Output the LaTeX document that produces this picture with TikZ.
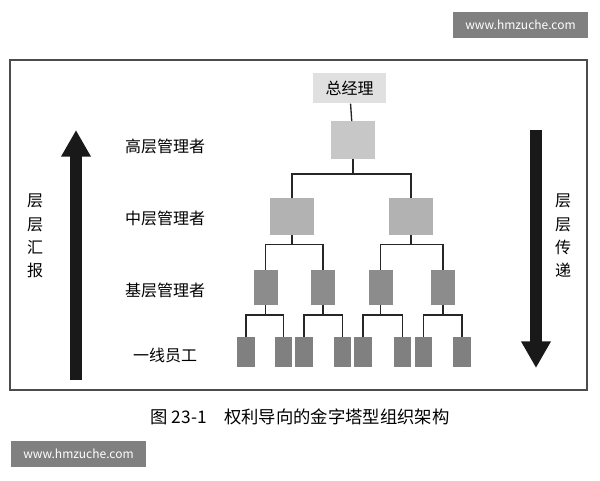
\documentclass[tikz,border=0pt]{standalone}
\usepackage{fontspec}
\setmainfont{Noto Sans CJK SC}
\usetikzlibrary{arrows.meta}
\tikzset{
  boxA/.style={fill=black!22, minimum width=33pt, minimum height=28pt, inner sep=0pt},
  boxB/.style={fill=black!30, minimum width=33pt, minimum height=28pt, inner sep=0pt},
  boxC/.style={fill=black!45, minimum width=18pt, minimum height=26pt, inner sep=0pt},
  boxD/.style={fill=black!50, minimum width=13pt, minimum height=22pt, inner sep=0pt},
  link/.style={draw=black!85, line width=1pt},
  lvl/.style={font=\fontsize{12}{17.5}\selectfont},
  wmark/.style={fill=black!50, text=white, font=\fontsize{9}{11}\selectfont, minimum width=101pt, minimum height=20pt, inner sep=0pt}
}
\begin{document}
\begin{tikzpicture}[x=0.75pt,y=-0.75pt]
  \useasboundingbox (0,0) rectangle (600,480);
  %Cadre
  \draw[black!70, line width=1pt] (10,60) rectangle (587,390);
  %Watermarks
  \node[wmark] (wmark 1) at (520.5,25) {www.hmzuche.com};
  \node[wmark] (wmark 2) at (78.5,454) {www.hmzuche.com};
  %Direction
  \node[fill=black!12, minimum width=55pt, minimum height=23pt, inner sep=0pt, font=\fontsize{12}{14}\selectfont] (gm) at (349.5,88) {总经理};
  \node[boxA] (top) at (353,140) {};
  \node[boxB] (mid 1) at (292,216.5) {};
  \node[boxB] (mid 2) at (411,216.5) {};
  %Niveaux inferieurs
  \foreach \x [count=\i] in {265.5, 323, 380.5, 443}
    \node[boxC] (base \i) at (\x,287.5) {};
  \foreach \x [count=\i] in {246, 283.5, 304, 342.5, 363, 402.5, 423.5, 462}
    \node[boxD] (leaf \i) at (\x,352) {};
  %Lignes
  \draw[link] (gm) -- (top);
  \draw[link] (top.south) -- ++(0,15) -| (mid 1.north);
  \draw[link] (top.south) ++(0,15) -| (mid 2.north);
  \foreach \p/\a/\b in {mid 1/base 1/base 2, mid 2/base 3/base 4}
  {
    \draw[link] (\p.south) -- ++(0,9) -| (\a.north);
    \draw[link] (\p.south) ++(0,9) -| (\b.north);
  }
  \foreach \p/\a/\b in {base 1/leaf 1/leaf 2, base 2/leaf 3/leaf 4, base 3/leaf 5/leaf 6, base 4/leaf 7/leaf 8}
  {
    \draw[link] (\p.south) -- ++(0,10) -| (\a.north);
    \draw[link] (\p.south) ++(0,10) -| (\b.north);
  }
  %Niveaux
  \node[lvl] (lvl 1) at (165,146) {高层管理者};
  \node[lvl] (lvl 2) at (165,218) {中层管理者};
  \node[lvl] (lvl 3) at (165,290) {基层管理者};
  \node[lvl] (lvl 4) at (165,355) {一线员工};
  %Fleches
  \coordinate (up a) at (76,380);
  \coordinate (up b) at (76,130);
  \coordinate (down a) at (536,130);
  \coordinate (down b) at (536,368);
  \draw[line width=9pt, black!90, -{Triangle[width=21pt,length=20pt]}] (up a) -- (up b);
  \draw[line width=9pt, black!90, -{Triangle[width=21pt,length=20pt]}] (down a) -- (down b);
  \node[lvl, align=center, text width=12pt] (up txt) at (35,236) {层\\层\\汇\\报};
  \node[lvl, align=center, text width=12pt] (down txt) at (563,236) {层\\层\\传\\递};
  %Legende
  \node[font=\fontsize{13}{15}\selectfont] (caption) at (300,417) {图 23-1\quad 权利导向的金字塔型组织架构};
\end{tikzpicture}
\end{document}
